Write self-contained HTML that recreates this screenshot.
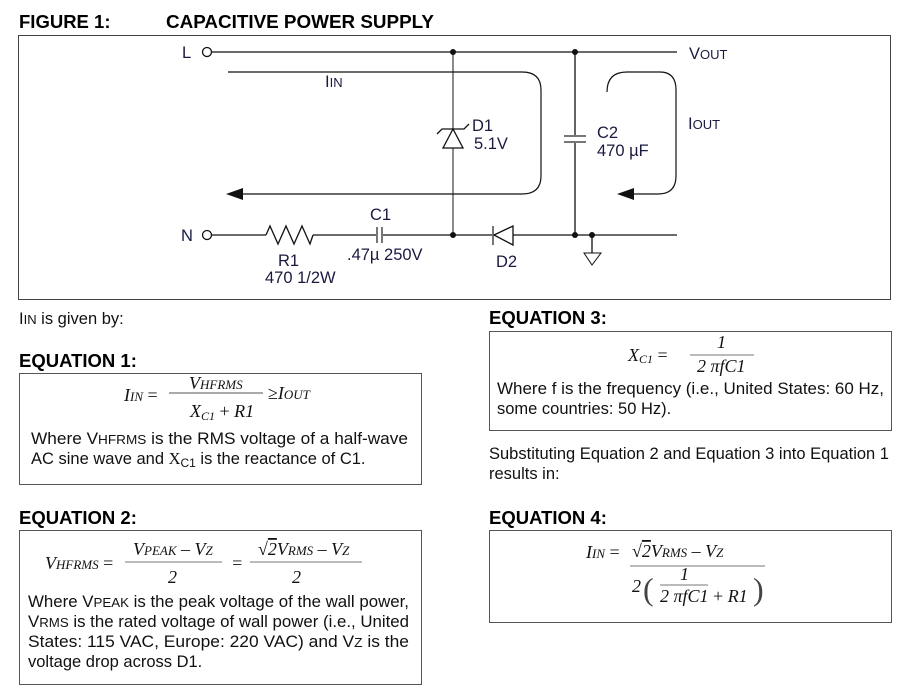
<!DOCTYPE html>
<html><head><meta charset="utf-8"><style>
html,body{margin:0;padding:0;background:#fff;}
svg{display:block;}
.s{font-family:"Liberation Sans",Arial,sans-serif;font-size:16.5px;fill:#111;}
.l{font-family:"Liberation Sans",Arial,sans-serif;font-size:16.5px;fill:#1a1a40;}
.h{font-family:"Liberation Sans",Arial,sans-serif;font-size:18.5px;font-weight:bold;fill:#000;}
.m{font-family:"Liberation Serif","Times New Roman",serif;font-style:italic;font-size:18px;fill:#111;}
</style></head><body>
<svg width="898" height="693" viewBox="0 0 898 693" xmlns="http://www.w3.org/2000/svg">
<text class="h" x="19" y="28">FIGURE 1:</text>
<text class="h" x="166" y="28" textLength="268" lengthAdjust="spacingAndGlyphs">CAPACITIVE POWER SUPPLY</text>
<rect x="18.5" y="35.5" width="872" height="264" fill="none" stroke="#444" stroke-width="1"/>

<g stroke="#111" stroke-width="1.3" fill="none">
<circle cx="207" cy="52" r="4.5" fill="#fff"/>
<line x1="212" y1="52" x2="677" y2="52"/>
<circle cx="207" cy="235" r="4.5" fill="#fff"/>
<line x1="212" y1="235" x2="266" y2="235"/>
<polyline points="266,235 270,226 278,244 286,226 294,244 302,226 310,244 313,235"/>
<line x1="313" y1="235" x2="377" y2="235"/>
<line x1="382" y1="235" x2="493" y2="235"/>
<line x1="513" y1="235" x2="677" y2="235"/>
<line x1="377" y1="227" x2="377" y2="243" stroke="#777" stroke-width="2"/>
<line x1="382" y1="227" x2="382" y2="243" stroke="#777" stroke-width="2"/>
<line x1="453" y1="52" x2="453" y2="235" stroke="#666" stroke-width="1.5"/>
<polygon points="453,129 443,148 463,148" fill="#fff"/>
<polyline points="437,134 442,129 464,129 469,124"/>
<line x1="493" y1="226" x2="493" y2="245" stroke="#777" stroke-width="2"/>
<polygon points="494,235 513,226 513,245" fill="#fff"/>
<line x1="575" y1="52" x2="575" y2="136"/>
<line x1="575" y1="142" x2="575" y2="235"/>
<line x1="564" y1="136" x2="586" y2="136" stroke="#777" stroke-width="2"/>
<line x1="564" y1="142" x2="586" y2="142" stroke="#777" stroke-width="2"/>
<line x1="592" y1="235" x2="592" y2="253"/>
<polygon points="584,253 601,253 592,265" stroke-width="1"/>
<path d="M228 72 H522 Q541 72 541 90 V176 Q541 194 522 194 H240" stroke-width="1.2"/>
<path d="M607 92 Q607 72 627 72 H660 Q676 72 676 90 V176 Q676 194 658 194 H630" stroke-width="1.2"/>
</g>
<polygon points="226,194 243,188 243,200" fill="#111"/>
<polygon points="617,194 634,188 634,200" fill="#111"/>
<g fill="#111">
<circle cx="453" cy="52" r="3"/><circle cx="575" cy="52" r="3"/>
<circle cx="453" cy="235" r="3"/><circle cx="575" cy="235" r="3"/><circle cx="592" cy="235" r="3"/>
</g>
<text class="l" x="182" y="58">L</text>
<text class="l" x="181" y="241">N</text>
<text class="l" x="689" y="59">V<tspan font-size="13">OUT</tspan></text>
<text class="l" x="325" y="87">I<tspan font-size="13">IN</tspan></text>
<text class="l" x="688" y="129">I<tspan font-size="13">OUT</tspan></text>
<text class="l" x="472" y="131">D1</text>
<text class="l" x="474" y="149">5.1V</text>
<text class="l" x="597" y="138">C2</text>
<text class="l" x="597" y="156">470 µF</text>
<text class="l" x="370" y="220">C1</text>
<text class="l" x="347" y="260">.47µ 250V</text>
<text class="l" x="278" y="266">R1</text>
<text class="l" x="265" y="283">470 1/2W</text>
<text class="l" x="496" y="267">D2</text>

<text class="s" x="19" y="324">I<tspan font-size="13">IN</tspan> is given by:</text>
<text class="h" x="19" y="367">EQUATION 1:</text>
<rect x="19.5" y="373.5" width="402" height="111" fill="none" stroke="#555"/>
<text class="m" x="124" y="401">I<tspan font-size="13">IN</tspan><tspan font-style="normal"> =</tspan></text>
<line x1="169" y1="393" x2="263" y2="393" stroke="#555"/>
<text class="m" x="189" y="389">V<tspan font-size="13">HFRMS</tspan></text>
<text class="m" x="190" y="417">X<tspan font-size="12" dy="3">C1</tspan><tspan dy="-3" font-style="normal"> + </tspan>R1</text>
<text class="m" x="268" y="399"><tspan font-style="normal">≥</tspan>I<tspan font-size="13">OUT</tspan></text>
<text class="s" x="31" y="444" textLength="377" lengthAdjust="spacingAndGlyphs">Where V<tspan font-size="13">HFRMS</tspan> is the RMS voltage of a half-wave</text>
<text class="s" x="31" y="464">AC sine wave and <tspan font-family="Liberation Serif">X</tspan><tspan font-size="12" dy="3">C1</tspan><tspan dy="-3"> is the reactance of C1.</tspan></text>

<text class="h" x="19" y="524">EQUATION 2:</text>
<rect x="19.5" y="530.5" width="402" height="154" fill="none" stroke="#555"/>
<text class="m" x="45" y="569">V<tspan font-size="13">HFRMS</tspan><tspan font-style="normal"> =</tspan></text>
<line x1="125" y1="562" x2="222" y2="562" stroke="#777"/>
<text class="m" x="133" y="555">V<tspan font-size="13">PEAK</tspan><tspan font-style="normal"> – </tspan>V<tspan font-size="13">Z</tspan></text>
<text class="m" x="168" y="583">2</text>
<text class="m" x="231" y="569" font-style="normal">=</text>
<line x1="250" y1="562" x2="362" y2="562" stroke="#777"/>
<text class="m" x="258" y="555"><tspan font-style="normal">√</tspan><tspan text-decoration="overline">2</tspan>V<tspan font-size="13">RMS</tspan><tspan font-style="normal"> – </tspan>V<tspan font-size="13">Z</tspan></text>
<text class="m" x="292" y="583">2</text>
<text class="s" x="28" y="607" textLength="381" lengthAdjust="spacingAndGlyphs">Where V<tspan font-size="13">PEAK</tspan> is the peak voltage of the wall power,</text>
<text class="s" x="28" y="627" textLength="381" lengthAdjust="spacingAndGlyphs">V<tspan font-size="13">RMS</tspan> is the rated voltage of wall power (i.e., United</text>
<text class="s" x="28" y="647" textLength="381" lengthAdjust="spacingAndGlyphs">States: 115 VAC, Europe: 220 VAC) and V<tspan font-size="13">Z</tspan> is the</text>
<text class="s" x="28" y="667">voltage drop across D1.</text>

<text class="h" x="489" y="324">EQUATION 3:</text>
<rect x="489.5" y="331.5" width="402" height="99" fill="none" stroke="#555"/>
<text class="m" x="628" y="361" font-size="17">X<tspan font-size="12" dy="2">C1</tspan><tspan dy="-2" font-style="normal"> =</tspan></text>
<line x1="690" y1="355" x2="754" y2="355" stroke="#777"/>
<text class="m" x="717" y="348" font-size="17">1</text>
<text class="m" x="697" y="372" font-size="17">2 πfC1</text>
<text class="s" x="497" y="394" textLength="387" lengthAdjust="spacingAndGlyphs">Where f is the frequency (i.e., United States: 60 Hz,</text>
<text class="s" x="497" y="414">some countries: 50 Hz).</text>
<text class="s" x="489" y="459" textLength="400" lengthAdjust="spacingAndGlyphs">Substituting Equation 2 and Equation 3 into Equation 1</text>
<text class="s" x="489" y="479">results in:</text>

<text class="h" x="489" y="524">EQUATION 4:</text>
<rect x="489.5" y="530.5" width="402" height="92" fill="none" stroke="#555"/>
<text class="m" x="586" y="558">I<tspan font-size="13">IN</tspan><tspan font-style="normal"> =</tspan></text>
<text class="m" x="632" y="557"><tspan font-style="normal">√</tspan><tspan text-decoration="overline">2</tspan>V<tspan font-size="13">RMS</tspan><tspan font-style="normal"> – </tspan>V<tspan font-size="13">Z</tspan></text>
<line x1="630" y1="566" x2="765" y2="566" stroke="#777"/>
<text class="m" x="632" y="592">2</text>
<text x="643" y="600" font-family="Liberation Serif" font-size="32" fill="#444">(</text>
<text x="753" y="600" font-family="Liberation Serif" font-size="32" fill="#444">)</text>
<text class="m" x="680" y="580" font-size="17">1</text>
<line x1="660" y1="585" x2="708" y2="585" stroke="#777"/>
<text class="m" x="660" y="602" font-size="17">2 πfC1<tspan font-style="normal"> + </tspan>R1</text>
</svg>
</body></html>
